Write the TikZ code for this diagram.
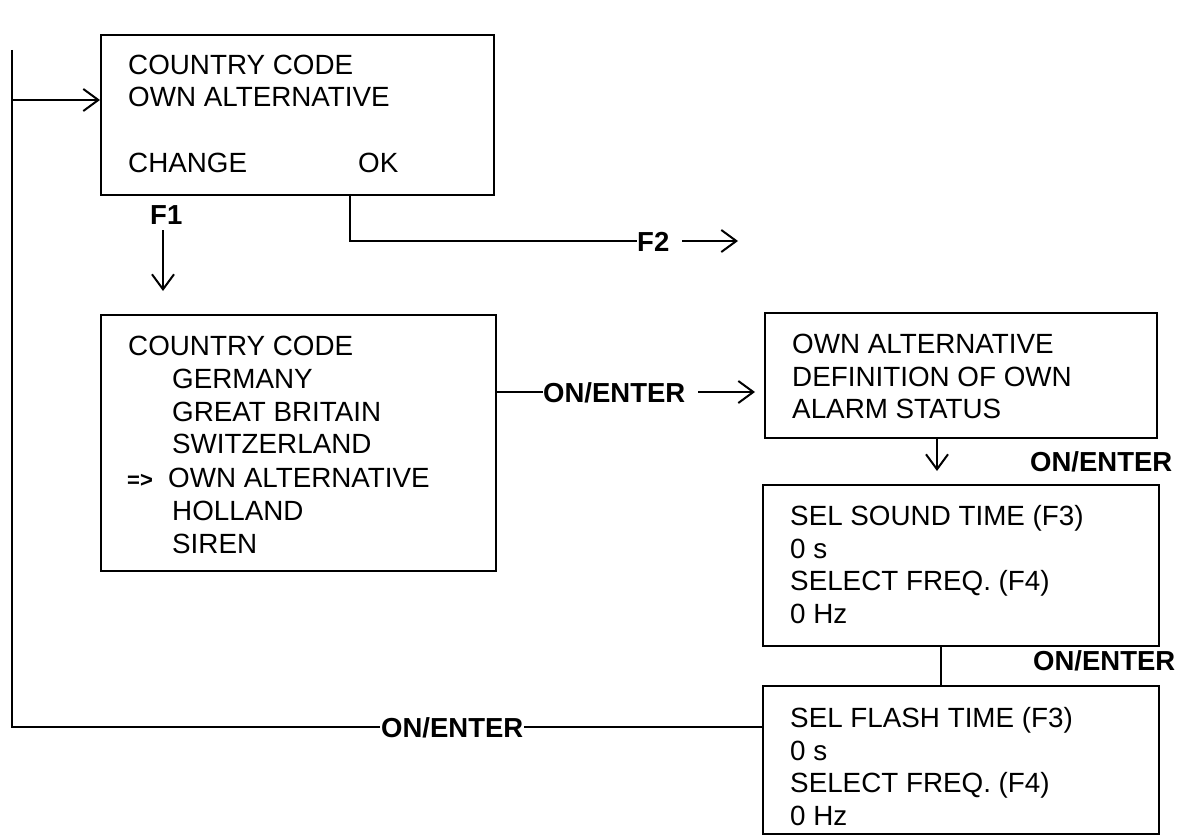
\documentclass[tikz,border=0pt]{standalone}
\usepackage{fontspec}
\setmainfont{Liberation Sans}
\usetikzlibrary{arrows.meta}
\begin{document}
\begin{tikzpicture}[x=1pt,y=-1pt,
  box/.style={draw,line width=2pt,anchor=north west,inner sep=0pt},
  txt/.style={anchor=base west,inner sep=0pt,font=\fontsize{27.8}{32}\selectfont},
  lbl/.style={anchor=base west,inner sep=0pt,font=\fontsize{27.5}{32}\selectfont\bfseries},
  conn/.style={line width=2pt},
  arr/.style={line width=2pt,-{Straight Barb[length=15pt,width=22pt,line width=2pt]}}]
\useasboundingbox (0,0) rectangle (1184,840);
% boxes
\node[box,minimum width=393pt,minimum height=160pt] (A) at (100,34) {};
\node[box,minimum width=395pt,minimum height=256pt] (B) at (100,314) {};
\node[box,minimum width=392pt,minimum height=125pt] (C) at (764,312) {};
\node[box,minimum width=396pt,minimum height=161pt] (D) at (762,484) {};
\node[box,minimum width=396pt,minimum height=148pt] (E) at (762,685) {};
% box A text
\node[txt] (a1) at (128,75) {COUNTRY CODE};
\node[txt] (a2) at (128,107) {OWN ALTERNATIVE};
\node[txt] (a3) at (128,172) {CHANGE};
\node[txt] (a4) at (358,172) {OK};
% box B text
\node[txt] (b1) at (128,355) {COUNTRY CODE};
\node[txt] (b2) at (172,388) {GERMANY};
\node[txt] (b3) at (172,421) {GREAT BRITAIN};
\node[txt] (b4) at (172,453) {SWITZERLAND};
\node[txt] (b5) at (127,487) {\fontsize{22}{24}\selectfont\bfseries=>};
\node[txt] (b6) at (168,487) {OWN ALTERNATIVE};
\node[txt] (b7) at (172,520) {HOLLAND};
\node[txt] (b8) at (172,553) {SIREN};
% box C text
\node[txt] (c1) at (792,353) {OWN ALTERNATIVE};
\node[txt] (c2) at (792,386) {DEFINITION OF OWN};
\node[txt] (c3) at (792,418) {ALARM STATUS};
% box D text
\node[txt] (d1) at (790,525) {SEL SOUND TIME (F3)};
\node[txt] (d2) at (790,558) {0 s};
\node[txt] (d3) at (790,590) {SELECT FREQ. (F4)};
\node[txt] (d4) at (790,623) {0 Hz};
% box E text
\node[txt] (e1) at (790,727) {SEL FLASH TIME (F3)};
\node[txt] (e2) at (790,760) {0 s};
\node[txt] (e3) at (790,792) {SELECT FREQ. (F4)};
\node[txt] (e4) at (790,825) {0 Hz};
% labels
\node[lbl] (f1) at (150,225) {F1};
\node[lbl] (f2) at (637,251) {F2};
\node[lbl] (on1) at (543,402) {ON/ENTER};
\node[lbl] (on2) at (1030,471) {ON/ENTER};
\node[lbl] (on3) at (1033,670) {ON/ENTER};
\node[lbl,fill=white,inner xsep=1pt,inner ysep=0pt] (on4) at (380,737) {ON/ENTER};
% coordinates
\coordinate (ltop) at (12,50);
\coordinate (lbot) at (12,727);
\coordinate (lmid) at (12,100);
\coordinate (okd) at (350,194);
\coordinate (okc) at (350,241);
\coordinate (f2s) at (682,241);
\coordinate (f2e) at (738,241);
\coordinate (f1s) at (163,230);
\coordinate (f1e) at (163,291);
\coordinate (bo) at (495,392);
\coordinate (ons) at (698,392);
\coordinate (one) at (755,392);
\coordinate (cd) at (937,437);
\coordinate (ce) at (937,471);
\coordinate (dd) at (941,645);
\coordinate (ee) at (941,685);
\coordinate (eL) at (762,727);
% connectors
\draw[conn] (ltop) -- (lbot) -- (on4.west |- lbot);
\draw[conn] (on4.east |- eL) -- (eL);
\draw[arr] (lmid) -- (A.west |- lmid);
\draw[conn] (okd) -- (okc) -- (f2.west |- okc);
\draw[arr] (f2s) -- (f2e);
\draw[arr] (f1s) -- (f1e);
\draw[conn] (bo) -- (on1.west |- bo);
\draw[arr] (ons) -- (one);
\draw[arr,line width=1.4pt] (cd) -- (ce);
\draw[line width=1.4pt] (dd) -- (ee);
\end{tikzpicture}
\end{document}
